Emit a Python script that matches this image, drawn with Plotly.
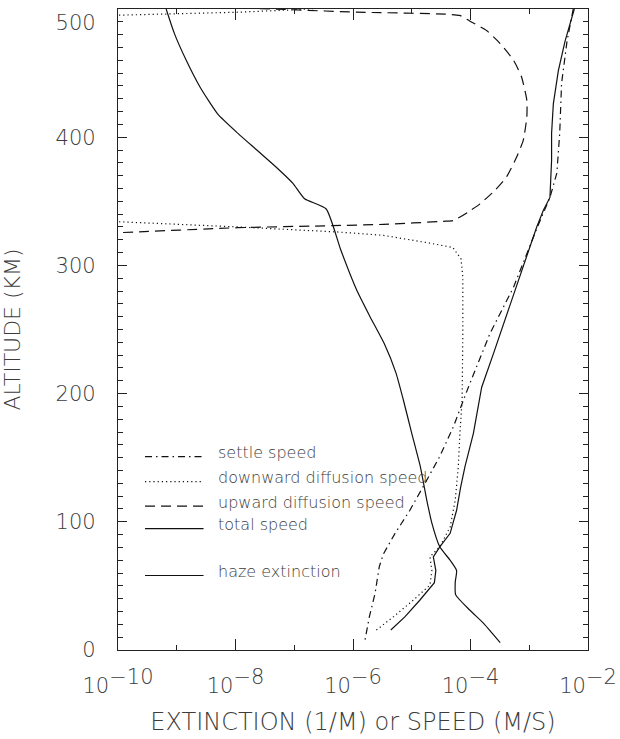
import plotly.graph_objects as go

# ---------------- data ----------------
# haze extinction (1/m) vs altitude (km)
haze_alt = [500, 481, 460, 439, 418, 403, 390, 376, 364, 352, 344, 312, 281, 260, 239,
            216, 195, 169, 143, 117, 99, 80.5, 70, 62, 53, 43, 31, 21, 12, 5.7]
haze_ext = [6.6e-10, 9.1e-10, 1.45e-9, 2.5e-9, 5.0e-9, 1.1e-8, 2.3e-8, 5.1e-8, 9.5e-8,
            1.5e-7, 3.5e-7, 6.2e-7, 1.15e-6, 1.95e-6, 3.4e-6, 5.4e-6, 7.2e-6, 1.0e-5,
            1.4e-5, 1.8e-5, 2.2e-5, 3.0e-5, 4.5e-5, 5.8e-5, 5.5e-5, 5.6e-5, 9.8e-5,
            1.66e-4, 2.45e-4, 3.2e-4]

# total speed (m/s)
total_alt = [500, 475, 452, 426, 403, 382, 353, 343, 330, 299, 260, 231, 205, 169, 143,
             127, 109, 91, 80.5, 72.7, 62, 52.5, 39, 26, 15.6]
total_spd = [5.85e-3, 4.07e-3, 3.13e-3, 2.57e-3, 2.4e-3, 2.4e-3, 2.25e-3, 1.74e-3,
             1.34e-3, 7.9e-4, 4.1e-4, 2.45e-4, 1.55e-4, 1.12e-4, 8.05e-5, 6.8e-5,
             5.8e-5, 4.5e-5, 3.0e-5, 2.33e-5, 2.57e-5, 2.43e-5, 1.38e-5, 7.7e-6, 4.4e-6]

# settle speed (m/s)
settle_alt = [500, 475, 442, 403, 372, 353, 330, 304, 283, 247, 205, 174, 151, 130, 109,
              91, 75, 65, 44, 26, 7.8]
settle_spd = [5.6e-3, 4.4e-3, 3.55e-3, 3.3e-3, 2.95e-3, 2.25e-3, 1.38e-3, 8.3e-4, 5.4e-4,
              2.15e-4, 9.2e-5, 5.1e-5, 3.0e-5, 1.68e-5, 9.3e-6, 5.2e-6, 3.3e-6, 2.8e-6,
              2.37e-6, 1.9e-6, 1.6e-6]

# downward diffusion speed (m/s)
down_alt = [15.6, 26, 39, 50.7, 62, 72.7, 80.5, 96, 117, 143, 169, 195, 247, 291, 305,
            314, 318, 323.5, 326, 330, 334, 336, 494, 495, 497.5, 499.4, 502]
down_spd = [2.5e-6, 4.9e-6, 1.07e-5, 2.04e-5, 2.2e-5, 2.04e-5, 3.0e-5, 4.5e-5, 5.5e-5,
            6.2e-5, 6.6e-5, 7.2e-5, 7.4e-5, 7.4e-5, 6.9e-5, 5.0e-5, 1.7e-5, 3.2e-6,
            5.8e-7, 1.1e-8, 1.1e-10, 1e-11, 1e-11, 1.1e-10, 1.1e-8, 1e-7, 1e-6]

# upward diffusion speed (m/s)
up_alt = [324, 325.6, 329.4, 331, 332, 334.4, 335, 341.6, 348, 358.5, 369, 384.5, 397.5,
          415.7, 428.7, 447, 460, 473, 483, 490.5, 495, 497.5, 499.4, 501]
up_spd = [1e-11, 1.1e-10, 1.1e-8, 4.5e-7, 3.3e-6, 3.5e-5, 5.1e-5, 9.1e-5, 1.45e-4,
          2.6e-4, 4.1e-4, 6.1e-4, 7.9e-4, 9.1e-4, 9.1e-4, 7.4e-4, 5.4e-4, 3.2e-4,
          1.9e-4, 9.8e-5, 6.5e-5, 1.15e-6, 9.5e-8, 1e-8]

x_tickvals = [1e-10, 1e-8, 1e-6, 1e-4, 1e-2]
x_exponents = ["\u221210", "\u22128", "\u22126", "\u22124", "\u22122"]
x_minor = [1e-9, 1e-7, 1e-5, 1e-3]
y_tickvals = [0, 100, 200, 300, 400, 500]
# the top label sits just below the frame in the original, so it gets an empty first line
y_ticktext = ["0", "100", "200", "300", "400", "\u00a0<br>500"]

legend_names = ["settle speed", "downward diffusion speed", "upward diffusion speed",
                "total speed", "haze extinction"]

# ---------------- styles ----------------
INK = "#111111"
TXT = "#3c3c3c"
FONT = "DejaVu Sans"
TICK_SIZE = 21
DASH_SETTLE = "7px,4px,1.5px,4px"
DASH_DOWN = "1.2px,3px"
DASH_UP = "10px,6px"

x_ticktext = ["10<sup><span style='font-size:%dpx'>%s</span></sup>" % (TICK_SIZE, e)
              for e in x_exponents]

fig = go.Figure()

def add(x, y, dash, name, shape="linear"):
    fig.add_trace(go.Scatter(x=x, y=y, mode="lines", name=name, showlegend=False,
                             line=dict(color=INK, width=1.2, dash=dash, shape=shape,
                                       smoothing=0.5)))

add(settle_spd, settle_alt, DASH_SETTLE, legend_names[0])
add(down_spd, down_alt, DASH_DOWN, legend_names[1])
add(up_spd, up_alt, DASH_UP, legend_names[2], "spline")
add(total_spd, total_alt, "solid", legend_names[3])
add(haze_ext, haze_alt, "solid", legend_names[4], "spline")

# ---------------- key (inside the plot, as in the original) ----------------
key_dashes = [DASH_SETTLE, DASH_DOWN, DASH_UP, "solid", "solid"]
key_line_y = [0.3016, 0.2626, 0.2246, 0.1894, 0.1162]
for name, dsh, ly in zip(legend_names, key_dashes, key_line_y):
    fig.add_shape(type="line", xref="paper", yref="paper", x0=0.0575, x1=0.182,
                  y0=ly, y1=ly, line=dict(color=INK, width=1.2, dash=dsh))
    fig.add_annotation(xref="paper", yref="paper", x=0.209, y=ly + 0.006,
                       xanchor="left", yanchor="middle", text=name, showarrow=False,
                       font=dict(family=FONT, size=16, color=TXT, weight=300))

axis_common = dict(showline=True, linecolor="#222222", linewidth=1.2, mirror="ticks",
                   ticks="inside", tickcolor="#222222", tickwidth=1.1, showgrid=False,
                   zeroline=False, ticklabeloverflow="allow", automargin=False)

fig.update_layout(
    width=620, height=739,
    margin=dict(l=118, r=32, t=9, b=89),
    paper_bgcolor="white", plot_bgcolor="white",
    font=dict(family=FONT, color=TXT),
    xaxis=dict(type="log", range=[-10, -2], tickmode="array", tickvals=x_tickvals,
               ticktext=x_ticktext, ticklen=11,
               tickfont=dict(family=FONT, size=TICK_SIZE, color=TXT, weight=300),
               minor=dict(tickmode="array", tickvals=x_minor, ticks="inside", ticklen=5,
                          tickcolor="#222222", showgrid=False),
               title=dict(text="EXTINCTION (1/M) or SPEED (M/S)", standoff=15,
                          font=dict(family=FONT, size=24, color=TXT, weight=300)),
               ticklabelstandoff=17,
               **axis_common),
    yaxis=dict(range=[0, 500], tickmode="array", tickvals=y_tickvals,
               ticktext=y_ticktext, ticklen=9,
               tickfont=dict(family=FONT, size=TICK_SIZE, color=TXT, weight=300),
               minor=dict(dtick=10, ticks="inside", ticklen=5, tickcolor="#222222",
                          showgrid=False),
               title=dict(text="ALTITUDE (KM)", standoff=28,
                          font=dict(family=FONT, size=22, color=TXT, weight=300)),
               ticklabelstandoff=17,
               **axis_common),
)

fig.write_html("out.html")
